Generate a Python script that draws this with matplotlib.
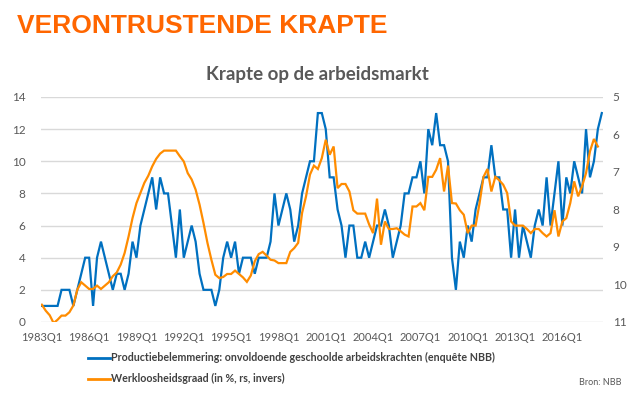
import matplotlib
matplotlib.use("Agg")
import matplotlib.pyplot as plt
from matplotlib.lines import Line2D

# Quarters 1983Q1 .. 2018Q3
quarters = [f"{y}Q{q}" for y in range(1983, 2019) for q in range(1, 5)][:143]

# Productiebelemmering: onvoldoende geschoolde arbeidskrachten (left axis)
shortage = [
    1, 1, 1, 1, 1, 2, 2, 2, 1, 2, 3, 4, 4, 1, 4, 5, 4, 3, 2, 3,
    3, 2, 3, 5, 4, 6, 7, 8, 9, 7, 9, 8, 8, 6, 4, 7, 4, 5, 6, 5,
    3, 2, 2, 2, 1, 2, 4, 5, 4, 5, 3, 4, 4, 4, 3, 4, 4, 4, 5, 8,
    6, 7, 8, 7, 5, 6, 8, 9, 10, 10, 13, 13, 12, 9, 9, 7, 6, 4, 6, 6,
    4, 4, 5, 4, 5, 6, 6, 7, 6, 4, 5, 6, 8, 8, 9, 9, 10, 8, 12, 11,
    13, 11, 11, 10, 4, 2, 5, 4, 6, 5, 7, 8, 9, 9, 11, 9, 9, 7, 7, 4,
    7, 4, 6, 5, 4, 6, 7, 6, 9, 6, 8, 10, 6, 9, 8, 10, 9, 8, 12, 9,
    10, 12, 13,
]

# Werkloosheidsgraad in % (right axis, inverted), 1983Q1 .. 2018Q2
unemployment = [
    10.54, 10.70, 10.82, 11.03, 10.94, 10.83, 10.83, 10.74, 10.56, 10.14,
    9.94, 10.03, 10.12, 10.12, 10.03, 10.12, 10.03, 9.94, 9.78, 9.68,
    9.47, 9.16, 8.72, 8.23, 7.83, 7.56, 7.29, 7.10, 6.85, 6.65,
    6.51, 6.43, 6.43, 6.43, 6.43, 6.58, 6.72, 7.03, 7.20, 7.47,
    7.87, 8.36, 8.89, 9.34, 9.74, 9.83, 9.80, 9.72, 9.72, 9.63,
    9.72, 9.81, 9.93, 9.76, 9.38, 9.19, 9.13, 9.23, 9.34, 9.36,
    9.43, 9.43, 9.43, 9.13, 9.03, 8.89, 8.09, 7.65, 7.07, 6.83,
    6.92, 6.63, 6.14, 6.54, 6.32, 7.43, 7.32, 7.32, 7.52, 8.02,
    8.11, 8.11, 8.11, 8.40, 8.63, 7.71, 8.94, 8.32, 8.52, 8.52,
    8.50, 8.58, 8.67, 8.72, 7.92, 7.92, 7.83, 8.02, 7.13, 7.13,
    6.94, 6.63, 7.52, 6.83, 7.83, 7.84, 8.02, 8.14, 8.63, 8.43,
    8.43, 7.83, 7.13, 6.92, 7.52, 7.13, 7.22, 7.34, 7.56, 8.32,
    8.43, 8.43, 8.43, 8.52, 8.63, 8.52, 8.52, 8.63, 8.72, 8.63,
    8.02, 8.72, 8.32, 8.23, 7.83, 7.25, 7.65, 7.38, 7.03, 6.45,
    6.12, 6.32,
]

blue = "#0070C0"
orange = "#FF8C00"
grey = "#595959"
font = ["Lato", "DejaVu Sans"]
plt.rcParams["font.family"] = font

fig = plt.figure(figsize=(6.41, 3.98), dpi=100)
ax = fig.add_axes([0.064, 0.191, 0.8767, 0.5653])
ax2 = ax.twinx()

ax.plot(range(len(shortage)), shortage, color=blue, linewidth=1.6,
        solid_joinstyle="miter")
ax2.plot(range(len(unemployment)), unemployment, color=orange, linewidth=1.6,
         solid_joinstyle="miter")

ax.set_xlim(-0.2, 142.3)
ax.set_ylim(0, 14)
ax.set_yticks(range(0, 15, 2))
ax2.set_ylim(11, 5)
ax2.set_yticks(range(5, 12))

tick_pos = list(range(0, len(quarters), 12))
ax.set_xticks(tick_pos, labels=[quarters[i] for i in tick_pos])

ax.grid(axis="y", color="#D9D9D9", linewidth=1)
ax.set_axisbelow(True)
for a in (ax, ax2):
    for spine in a.spines.values():
        spine.set_visible(False)
    a.tick_params(length=0, colors=grey, labelsize=8.5)
ax.tick_params(axis="x", labelsize=8, pad=7)
ax.tick_params(axis="y", pad=11)
ax2.tick_params(axis="y", pad=7)

fig.text(0.0265, 0.917, "VERONTRUSTENDE KRAPTE", color="#FF6600",
         fontsize=19, fontweight="bold", family="Liberation Sans",
         va="baseline", ha="left")
fig.text(0.495, 0.80, "Krapte op de arbeidsmarkt", color=grey,
         fontsize=13.5, fontweight="bold", va="baseline", ha="center")

handles = [Line2D([], [], color=blue, linewidth=2),
           Line2D([], [], color=orange, linewidth=2)]
labels = ["Productiebelemmering: onvoldoende geschoolde arbeidskrachten (enquête NBB)",
          "Werkloosheidsgraad (in %, rs, invers)"]
leg = fig.legend(handles, labels, loc="upper left", bbox_to_anchor=(0.137, 0.115),
                 frameon=False, handlelength=2.1, handletextpad=0.1,
                 labelspacing=0.95, prop={"size": 7.7, "weight": "bold"},
                 borderaxespad=0, borderpad=0)
for t in leg.get_texts():
    t.set_color("#404040")

fig.text(0.97, 0.033, "Bron: NBB", color=grey, fontsize=6.5, ha="right",
         va="baseline")

fig.savefig("out.png", dpi=100)
